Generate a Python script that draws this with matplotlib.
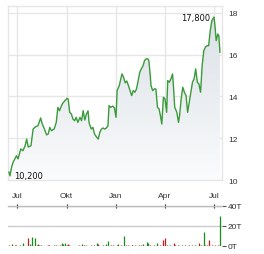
import matplotlib
matplotlib.use("Agg")
import matplotlib.pyplot as plt
import matplotlib.dates as mdates
import numpy as np
import pandas as pd
from matplotlib.patches import Polygon

# Kursverlauf
price_dates = [
    "2023-06-16", "2023-06-18", "2023-06-21", "2023-06-24", "2023-06-27", "2023-06-30",
    "2023-07-03", "2023-07-08", "2023-07-12", "2023-07-16", "2023-07-19", "2023-07-22",
    "2023-07-27", "2023-07-31", "2023-08-04", "2023-08-09", "2023-08-14", "2023-08-17",
    "2023-08-21", "2023-08-25", "2023-08-28", "2023-08-31", "2023-09-03", "2023-09-08",
    "2023-09-12", "2023-09-15", "2023-09-18", "2023-09-23", "2023-09-28", "2023-10-02",
    "2023-10-04", "2023-10-07", "2023-10-10", "2023-10-13", "2023-10-16", "2023-10-19",
    "2023-10-22", "2023-10-26", "2023-10-29", "2023-11-01", "2023-11-04", "2023-11-07",
    "2023-11-10", "2023-11-12", "2023-11-16", "2023-11-19", "2023-11-22", "2023-11-26",
    "2023-11-29", "2023-12-02", "2023-12-05", "2023-12-08", "2023-12-11", "2023-12-14",
    "2023-12-17", "2023-12-19", "2023-12-22", "2023-12-26", "2023-12-29", "2024-01-01",
    "2024-01-03", "2024-01-07", "2024-01-12", "2024-01-15", "2024-01-18", "2024-01-21",
    "2024-01-24", "2024-01-27", "2024-01-30", "2024-02-02", "2024-02-05", "2024-02-08",
    "2024-02-11", "2024-02-14", "2024-02-17", "2024-02-20", "2024-02-23", "2024-02-26",
    "2024-02-29", "2024-03-02", "2024-03-04", "2024-03-06", "2024-03-09", "2024-03-12",
    "2024-03-15", "2024-03-18", "2024-03-21", "2024-03-24", "2024-03-26", "2024-03-29",
    "2024-04-01", "2024-04-04", "2024-04-06", "2024-04-09", "2024-04-12", "2024-04-15",
    "2024-04-17", "2024-04-19", "2024-04-23", "2024-04-26", "2024-04-28", "2024-05-01",
    "2024-05-04", "2024-05-07", "2024-05-10", "2024-05-13", "2024-05-16", "2024-05-19",
    "2024-05-22", "2024-05-25", "2024-05-28", "2024-05-31", "2024-06-03", "2024-06-06",
    "2024-06-09", "2024-06-12", "2024-06-15", "2024-06-18", "2024-06-21", "2024-06-24",
    "2024-06-27", "2024-07-01", "2024-07-03", "2024-07-05", "2024-07-08", "2024-07-10",
    "2024-07-12",
]
prices = [
    10.38, 10.20, 10.62, 10.86, 11.01, 11.16,
    11.01, 11.49, 11.40, 11.63, 11.96, 11.58,
    11.64, 12.44, 12.54, 12.60, 12.97, 12.68,
    12.44, 12.16, 12.20, 12.52, 12.36, 12.44,
    12.76, 13.48, 13.32, 13.64, 13.80, 13.91,
    13.88, 13.24, 13.16, 12.92, 12.84, 13.00,
    12.76, 13.00, 12.84, 13.32, 12.87, 13.16,
    13.31, 12.73, 12.44, 12.52, 12.20, 12.05,
    11.96, 12.30, 12.44, 12.49, 12.44, 12.49,
    12.60, 13.56, 13.48, 13.54, 13.45, 13.00,
    14.28, 14.52, 15.08, 14.92, 14.65, 14.74,
    14.52, 14.28, 14.04, 14.28, 14.20, 14.36,
    14.74, 15.16, 15.32, 15.46, 15.72, 15.80,
    15.80, 15.72, 15.16, 14.52, 14.28, 14.36,
    14.36, 13.48, 13.40, 13.00, 12.68, 13.96,
    13.88, 13.24, 14.76, 14.68, 14.84, 15.08,
    14.36, 13.48, 13.24, 12.76, 13.08, 13.88,
    14.44, 14.20, 14.04, 13.24, 13.72, 14.20,
    14.68, 14.84, 15.32, 14.68, 14.60, 14.20,
    15.48, 16.19, 16.36, 16.43, 16.43, 17.15,
    17.63, 17.80, 17.32, 16.67, 16.99, 16.90,
    16.12,
]

# Umsatz in Tausend Stueck, Richtung +1 = steigend, -1 = fallend
vol_dates = [
    "2023-06-16", "2023-06-21", "2023-06-27", "2023-06-30", "2023-07-06", "2023-07-12",
    "2023-07-21", "2023-07-25", "2023-07-28", "2023-08-03", "2023-08-07", "2023-08-09",
    "2023-08-11", "2023-08-15", "2023-08-28", "2023-08-30", "2023-09-08", "2023-09-12",
    "2023-09-18", "2023-09-22", "2023-09-25", "2023-09-28", "2023-10-02", "2023-10-04",
    "2023-10-06", "2023-10-24", "2023-10-30", "2023-11-03", "2023-11-07", "2023-11-16",
    "2023-11-21", "2023-11-27", "2023-11-29", "2023-12-08", "2023-12-13", "2023-12-18",
    "2023-12-22", "2023-12-27", "2024-01-02", "2024-01-05", "2024-01-10", "2024-01-15",
    "2024-01-19", "2024-01-24", "2024-01-30", "2024-01-31", "2024-02-05", "2024-02-12",
    "2024-02-16", "2024-02-21", "2024-02-27", "2024-02-29", "2024-03-04", "2024-03-11",
    "2024-03-18", "2024-03-22", "2024-03-28", "2024-04-01", "2024-04-04", "2024-04-10",
    "2024-04-17", "2024-04-19", "2024-04-26", "2024-05-02", "2024-05-08", "2024-05-15",
    "2024-05-21", "2024-05-27", "2024-06-03", "2024-06-06", "2024-06-12", "2024-06-14",
    "2024-06-18", "2024-06-21", "2024-06-27", "2024-07-03", "2024-07-08", "2024-07-12",
]
volumes = [
    0.7, 1.7, 0.7, 1.0, 1.0, 2.3,
    7.7, 1.7, 9.0, 7.7, 0.7, 1.7,
    1.0, 0.7, 0.7, 0.7, 0.7, 1.0,
    1.0, 2.7, 1.3, 2.7, 1.0, 1.7,
    0.7, 0.7, 1.7, 0.7, 0.7, 1.0,
    1.0, 2.7, 1.7, 1.0, 1.7, 4.7,
    1.0, 0.7, 1.0, 1.7, 1.0, 9.7,
    0.7, 0.7, 0.7, 0.7, 0.7, 1.0,
    0.7, 1.7, 4.0, 2.3, 0.7, 0.7,
    2.3, 0.7, 6.0, 7.3, 0.7, 0.7,
    2.3, 0.7, 0.7, 0.7, 0.7, 1.0,
    1.0, 0.7, 2.3, 1.0, 13.7, 1.0,
    0.7, 5.7, 1.0, 1.0, 1.0, 30.0,
]
vol_dir = [
    -1, 1, -1, -1, 1, 1,
    -1, 1, 1, 1, -1, 1,
    -1, -1, -1, -1, 1, 1,
    -1, 1, 1, 1, -1, -1,
    -1, 1, 1, -1, 1, 1,
    -1, 1, -1, 1, 1, 1,
    -1, -1, 1, 1, -1, 1,
    -1, -1, 1, -1, 1, -1,
    -1, 1, 1, 1, -1, -1,
    1, -1, -1, -1, 1, 1,
    -1, -1, 1, 1, 1, 1,
    1, 1, -1, 1, 1, 1,
    -1, -1, -1, -1, -1, 1,
]

tick_dates = ["2023-07-01", "2023-10-01", "2024-01-01", "2024-04-01", "2024-07-01"]
tick_labels = ["Jul", "Okt", "Jan", "Apr", "Jul"]
price_ticks = [10, 12, 14, 16, 18]
vol_ticks = [0, 20, 40]
vol_tick_labels = ["0T", "20T", "40T"]

# Darstellung
line_color = "#3a9a3a"
grid_color = "#e6e6e6"
text_color = "#333333"
tick_font = "Liberation Sans"

x = mdates.date2num(pd.to_datetime(price_dates))
y = np.array(prices)
xv = mdates.date2num(pd.to_datetime(vol_dates))
xt = mdates.date2num(pd.to_datetime(tick_dates))
x_lo = mdates.date2num(pd.Timestamp("2023-06-14 08:00"))
x_hi = mdates.date2num(pd.Timestamp("2024-07-15 20:00"))

fig = plt.figure(figsize=(2.64, 2.55), dpi=100)
ax = fig.add_axes([8 / 264, 1 - 181 / 255, 214 / 264, 174 / 255])
ax2 = fig.add_axes([8 / 264, 1 - 246.7 / 255, 214 / 264, 39.7 / 255])

# 1. Kurs-Chart
y_lo, y_hi = 10, 18.33
ax.set_xlim(x_lo, x_hi)
ax.set_ylim(y_lo, y_hi)

# Verlauf unter der Linie
grad = np.linspace(0, 1, 256).reshape(-1, 1)
top_rgb = np.array([0.855, 0.878, 0.902])
bot_rgb = np.array([0.985, 0.988, 0.992])
img = bot_rgb + (top_rgb - bot_rgb) * grad[..., None] ** 0.9
im = ax.imshow(img, extent=[x_lo, x_hi, y_lo, y_hi], origin="lower",
               aspect="auto", zorder=1)
poly = Polygon(np.column_stack([np.r_[x[0], x, x[-1]], np.r_[y_lo, y, y_lo]]),
               closed=True, facecolor="none", edgecolor="none")
ax.add_patch(poly)
im.set_clip_path(poly)

ax.plot(x, y, color=line_color, lw=1.0, zorder=3)

ax.set_xticks(xt)
ax.set_xticklabels(tick_labels)
ax.set_yticks(price_ticks)
ax.yaxis.tick_right()
ax.grid(True, color=grid_color, lw=1.0, zorder=0)
ax.set_axisbelow(True)
ax.tick_params(axis="both", length=0, labelsize=6, colors=text_color)
ax.tick_params(axis="x", pad=9)
ax.tick_params(axis="y", pad=4.5)
for lab in ax.get_xticklabels() + ax.get_yticklabels():
    lab.set_fontfamily(tick_font)
for s in ax.spines.values():
    s.set_color(grid_color)
    s.set_linewidth(1.0)

# Hoch und Tief beschriften
i_max = int(np.argmax(y))
i_min = int(np.argmin(y))
fmt = lambda v: f"{v:.3f}".replace(".", ",")
ax.annotate(fmt(y[i_max]), (x[i_max], y[i_max]), xytext=(-3, -0.5),
            textcoords="offset points", ha="right", va="center",
            fontsize=6, color="#111111", zorder=4)
ax.annotate(fmt(y[i_min]), (x[i_min], y[i_min]), xytext=(3, 0.5),
            textcoords="offset points", ha="left", va="center",
            fontsize=6, color="#111111", zorder=4)

# 2. Umsatz-Chart
ax2.set_xlim(x_lo, x_hi)
ax2.set_ylim(0, 40)
colors = ["#1a8a1a" if d > 0 else "#c0201f" for d in vol_dir]
ax2.vlines(xv, 0, volumes, colors=colors, lw=0.9, zorder=3)

ax2.set_yticks(vol_ticks)
ax2.set_yticklabels(vol_tick_labels)
ax2.yaxis.tick_right()
ax2.grid(True, axis="y", color="#cccccc", lw=1.0, zorder=0)
ax2.set_axisbelow(True)
ax2.tick_params(axis="y", length=3, width=0.8, color="#555555", pad=1,
                labelsize=6, colors=text_color)
ax2.set_xticks(xt)
ax2.xaxis.tick_top()
ax2.tick_params(axis="x", direction="inout", length=3, width=0.8,
                color="#222222", labeltop=False, labelbottom=False)
for lab in ax2.get_yticklabels():
    lab.set_fontfamily(tick_font)
for side in ["left", "right", "bottom"]:
    ax2.spines[side].set_visible(False)
ax2.spines["top"].set_color("#bbbbbb")
ax2.spines["top"].set_linewidth(1.0)

fig.savefig("out.png", dpi=100)
